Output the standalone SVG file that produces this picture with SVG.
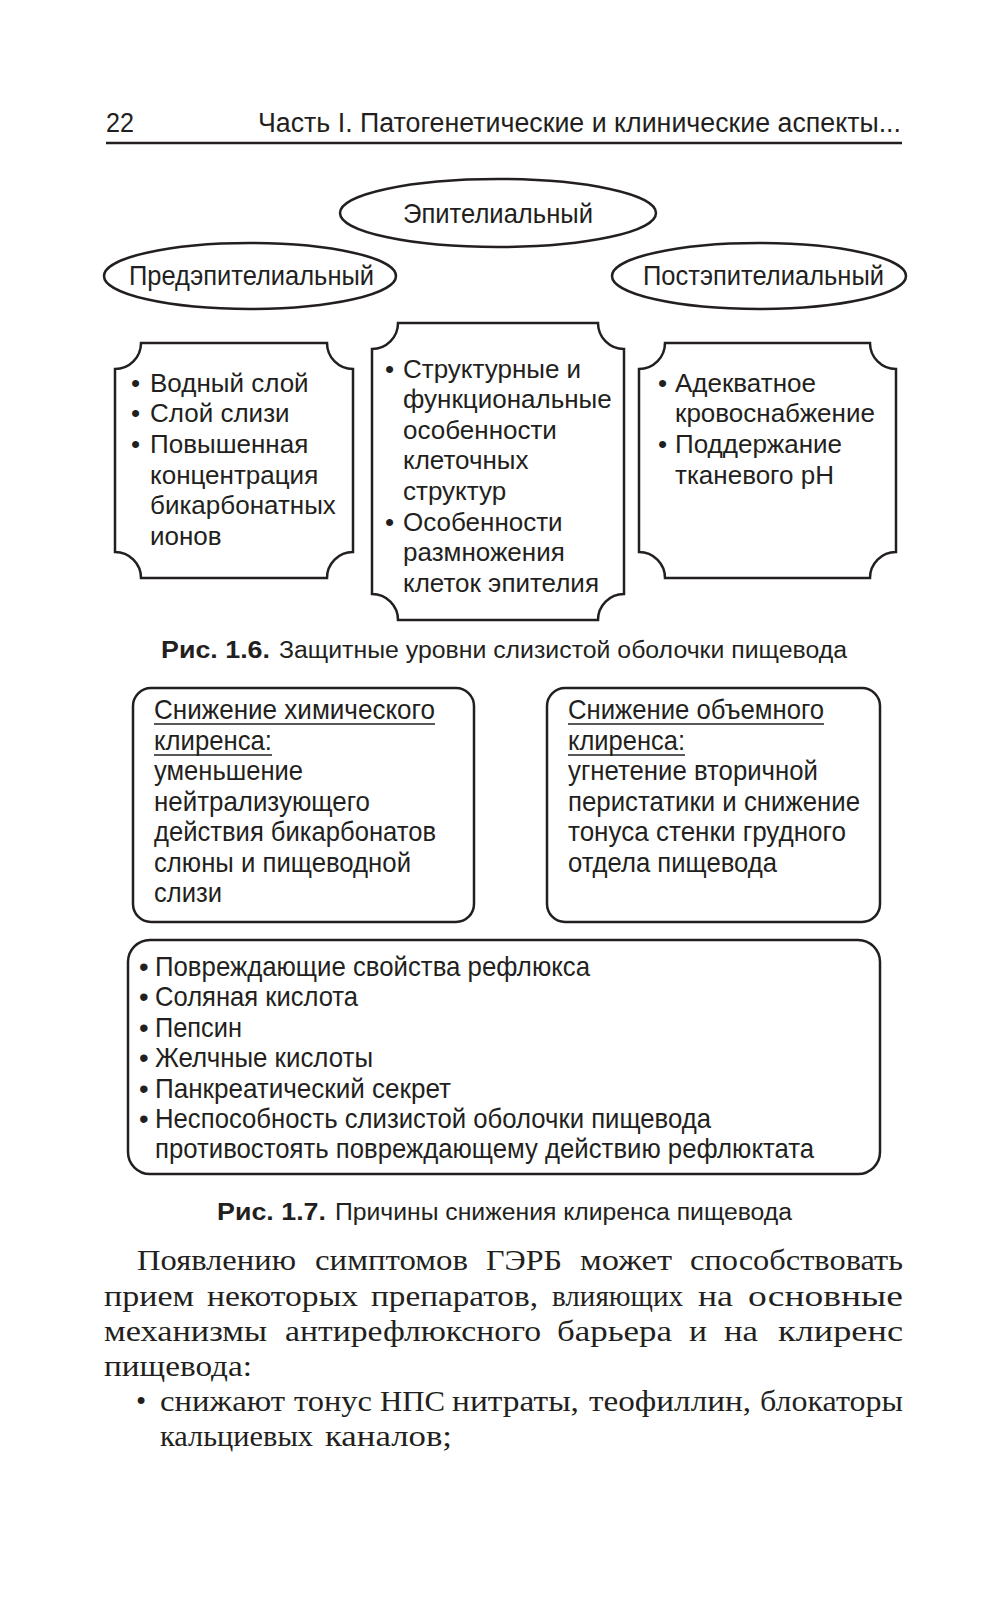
<svg xmlns="http://www.w3.org/2000/svg" width="1000" height="1600" viewBox="0 0 1000 1600">
<style>
.s{font-family:"Liberation Sans",Arial,sans-serif;fill:#231f20}
.h{font-size:27px}
.e{font-size:28px}
.b{font-size:26px}
.c{font-size:27.5px}
.cap{font-size:23.5px}
.bold{font-weight:bold}
.r{font-family:"Liberation Serif","Times New Roman",serif;font-size:29px;fill:#231f20}
.box{fill:#fff;stroke:#231f20;stroke-width:2.5}
.u{stroke:#231f20;stroke-width:1.5}
</style>
<rect width="1000" height="1600" fill="#fff"/>
<g id="header">
<text class="s h" x="106" y="132" textLength="28" lengthAdjust="spacingAndGlyphs">22</text>
<text class="s h" x="258" y="132" textLength="643" lengthAdjust="spacingAndGlyphs">Часть I. Патогенетические и клинические аспекты...</text>
<line x1="106" y1="143" x2="902" y2="143" stroke="#231f20" stroke-width="2.6"/>
</g>
<g id="ellipse-epi">
<ellipse class="box" cx="498" cy="213" rx="158" ry="34"/>
<text class="s e" x="403" y="223" textLength="190" lengthAdjust="spacingAndGlyphs">Эпителиальный</text>
</g>
<g id="ellipse-pre">
<ellipse class="box" cx="250" cy="276" rx="146" ry="33"/>
<text class="s e" x="129" y="285" textLength="245" lengthAdjust="spacingAndGlyphs">Предэпителиальный</text>
</g>
<g id="ellipse-post">
<ellipse class="box" cx="759" cy="276" rx="147" ry="33"/>
<text class="s e" x="643" y="285" textLength="241" lengthAdjust="spacingAndGlyphs">Постэпителиальный</text>
</g>
<g id="box-pre">
<path class="box" d="M141,343 H327 A26,26 0 0 0 353,369 V552 A26,26 0 0 0 327,578 H141 A26,26 0 0 0 115,552 V369 A26,26 0 0 0 141,343 Z"/>
<g class="s b">
<text x="131" y="392">•</text><text x="150" y="392">Водный слой</text>
<text x="131" y="422">•</text><text x="150" y="422">Слой слизи</text>
<text x="131" y="453">•</text><text x="150" y="453">Повышенная</text>
<text x="150" y="484">концентрация</text>
<text x="150" y="514">бикарбонатных</text>
<text x="150" y="545">ионов</text>
</g>
</g>
<g id="box-epi">
<path class="box" d="M398,323 H598 A26,26 0 0 0 624,349 V594 A26,26 0 0 0 598,620 H398 A26,26 0 0 0 372,594 V349 A26,26 0 0 0 398,323 Z"/>
<g class="s b">
<text x="385" y="378">•</text><text x="403" y="378">Структурные и</text>
<text x="403" y="408">функциональные</text>
<text x="403" y="439">особенности</text>
<text x="403" y="469">клеточных</text>
<text x="403" y="500">структур</text>
<text x="385" y="531">•</text><text x="403" y="531">Особенности</text>
<text x="403" y="561">размножения</text>
<text x="403" y="592">клеток эпителия</text>
</g>
</g>
<g id="box-post">
<path class="box" d="M665,343 H870 A26,26 0 0 0 896,369 V552 A26,26 0 0 0 870,578 H665 A26,26 0 0 0 639,552 V369 A26,26 0 0 0 665,343 Z"/>
<g class="s b">
<text x="658" y="392">•</text><text x="675" y="392">Адекватное</text>
<text x="675" y="422">кровоснабжение</text>
<text x="658" y="453">•</text><text x="675" y="453">Поддержание</text>
<text x="675" y="484">тканевого pH</text>
</g>
</g>
<g id="caption-1-6">
<text class="s cap bold" x="161" y="658" textLength="109" lengthAdjust="spacingAndGlyphs">Рис. 1.6.</text>
<text class="s cap" x="279" y="658" textLength="568" lengthAdjust="spacingAndGlyphs">Защитные уровни слизистой оболочки пищевода</text>
</g>
<g id="box-chem">
<rect class="box" x="133" y="688" width="341" height="234" rx="18"/>
<g class="s c" lengthAdjust="spacingAndGlyphs">
<text x="154" y="719" textLength="281" lengthAdjust="spacingAndGlyphs">Снижение химического</text>
<line class="u" x1="154" y1="724" x2="435" y2="724"/>
<text x="154" y="750" textLength="118" lengthAdjust="spacingAndGlyphs">клиренса:</text>
<line class="u" x1="154" y1="755" x2="272" y2="755"/>
<text x="154" y="780" textLength="149" lengthAdjust="spacingAndGlyphs">уменьшение</text>
<text x="154" y="811" textLength="216" lengthAdjust="spacingAndGlyphs">нейтрализующего</text>
<text x="154" y="841" textLength="282" lengthAdjust="spacingAndGlyphs">действия бикарбонатов</text>
<text x="154" y="872" textLength="257" lengthAdjust="spacingAndGlyphs">слюны и пищеводной</text>
<text x="154" y="902" textLength="68" lengthAdjust="spacingAndGlyphs">слизи</text>
</g>
</g>
<g id="box-vol">
<rect class="box" x="547" y="688" width="333" height="234" rx="18"/>
<g class="s c">
<text x="568" y="719" textLength="256" lengthAdjust="spacingAndGlyphs">Снижение объемного</text>
<line class="u" x1="568" y1="724" x2="824" y2="724"/>
<text x="568" y="750" textLength="117" lengthAdjust="spacingAndGlyphs">клиренса:</text>
<line class="u" x1="568" y1="755" x2="685" y2="755"/>
<text x="568" y="780" textLength="250" lengthAdjust="spacingAndGlyphs">угнетение вторичной</text>
<text x="568" y="811" textLength="292" lengthAdjust="spacingAndGlyphs">перистатики и снижение</text>
<text x="568" y="841" textLength="278" lengthAdjust="spacingAndGlyphs">тонуса стенки грудного</text>
<text x="568" y="872" textLength="209" lengthAdjust="spacingAndGlyphs">отдела пищевода</text>
</g>
</g>
<g id="box-reflux">
<rect class="box" x="128" y="940" width="752" height="234" rx="22"/>
<g class="s c">
<text x="139" y="976">•</text><text x="155" y="976" textLength="435" lengthAdjust="spacingAndGlyphs">Повреждающие свойства рефлюкса</text>
<text x="139" y="1006">•</text><text x="155" y="1006" textLength="203" lengthAdjust="spacingAndGlyphs">Соляная кислота</text>
<text x="139" y="1037">•</text><text x="155" y="1037" textLength="87" lengthAdjust="spacingAndGlyphs">Пепсин</text>
<text x="139" y="1067">•</text><text x="155" y="1067" textLength="218" lengthAdjust="spacingAndGlyphs">Желчные кислоты</text>
<text x="139" y="1098">•</text><text x="155" y="1098" textLength="296" lengthAdjust="spacingAndGlyphs">Панкреатический секрет</text>
<text x="139" y="1128">•</text><text x="155" y="1128" textLength="556" lengthAdjust="spacingAndGlyphs">Неспособность слизистой оболочки пищевода</text>
<text x="155" y="1158" textLength="659" lengthAdjust="spacingAndGlyphs">противостоять повреждающему действию рефлюктата</text>
</g>
</g>
<g id="caption-1-7">
<text class="s cap bold" x="217" y="1220" textLength="109" lengthAdjust="spacingAndGlyphs">Рис. 1.7.</text>
<text class="s cap" x="335" y="1220" textLength="457" lengthAdjust="spacingAndGlyphs">Причины снижения клиренса пищевода</text>
</g>
<g id="body" class="r">
<text x="137" y="1270" textLength="159" lengthAdjust="spacingAndGlyphs">Появлению</text>
<text x="315" y="1270" textLength="153" lengthAdjust="spacingAndGlyphs">симптомов</text>
<text x="486" y="1270" textLength="76" lengthAdjust="spacingAndGlyphs">ГЭРБ</text>
<text x="580" y="1270" textLength="92" lengthAdjust="spacingAndGlyphs">может</text>
<text x="690" y="1270" textLength="213" lengthAdjust="spacingAndGlyphs">способствовать</text>
<text x="104" y="1306" textLength="90" lengthAdjust="spacingAndGlyphs">прием</text>
<text x="207" y="1306" textLength="151" lengthAdjust="spacingAndGlyphs">некоторых</text>
<text x="371" y="1306" textLength="167" lengthAdjust="spacingAndGlyphs">препаратов,</text>
<text x="552" y="1306" textLength="131" lengthAdjust="spacingAndGlyphs">влияющих</text>
<text x="698" y="1306" textLength="35" lengthAdjust="spacingAndGlyphs">на</text>
<text x="748" y="1306" textLength="155" lengthAdjust="spacingAndGlyphs">основные</text>
<text x="104" y="1341" textLength="163" lengthAdjust="spacingAndGlyphs">механизмы</text>
<text x="285" y="1341" textLength="256" lengthAdjust="spacingAndGlyphs">антирефлюксного</text>
<text x="557" y="1341" textLength="115" lengthAdjust="spacingAndGlyphs">барьера</text>
<text x="689" y="1341" textLength="18" lengthAdjust="spacingAndGlyphs">и</text>
<text x="724" y="1341" textLength="34" lengthAdjust="spacingAndGlyphs">на</text>
<text x="778" y="1341" textLength="125" lengthAdjust="spacingAndGlyphs">клиренс</text>
<text x="104" y="1376" textLength="148" lengthAdjust="spacingAndGlyphs">пищевода:</text>
<text x="136" y="1411">•</text>
<text x="160" y="1411" textLength="125" lengthAdjust="spacingAndGlyphs">снижают</text>
<text x="294" y="1411" textLength="78" lengthAdjust="spacingAndGlyphs">тонус</text>
<text x="380" y="1411" textLength="65" lengthAdjust="spacingAndGlyphs">НПС</text>
<text x="452" y="1411" textLength="127" lengthAdjust="spacingAndGlyphs">нитраты,</text>
<text x="589" y="1411" textLength="162" lengthAdjust="spacingAndGlyphs">теофиллин,</text>
<text x="760" y="1411" textLength="143" lengthAdjust="spacingAndGlyphs">блокаторы</text>
<text x="160" y="1446" textLength="153" lengthAdjust="spacingAndGlyphs">кальциевых</text>
<text x="325" y="1446" textLength="127" lengthAdjust="spacingAndGlyphs">каналов;</text>
</g>
</svg>
